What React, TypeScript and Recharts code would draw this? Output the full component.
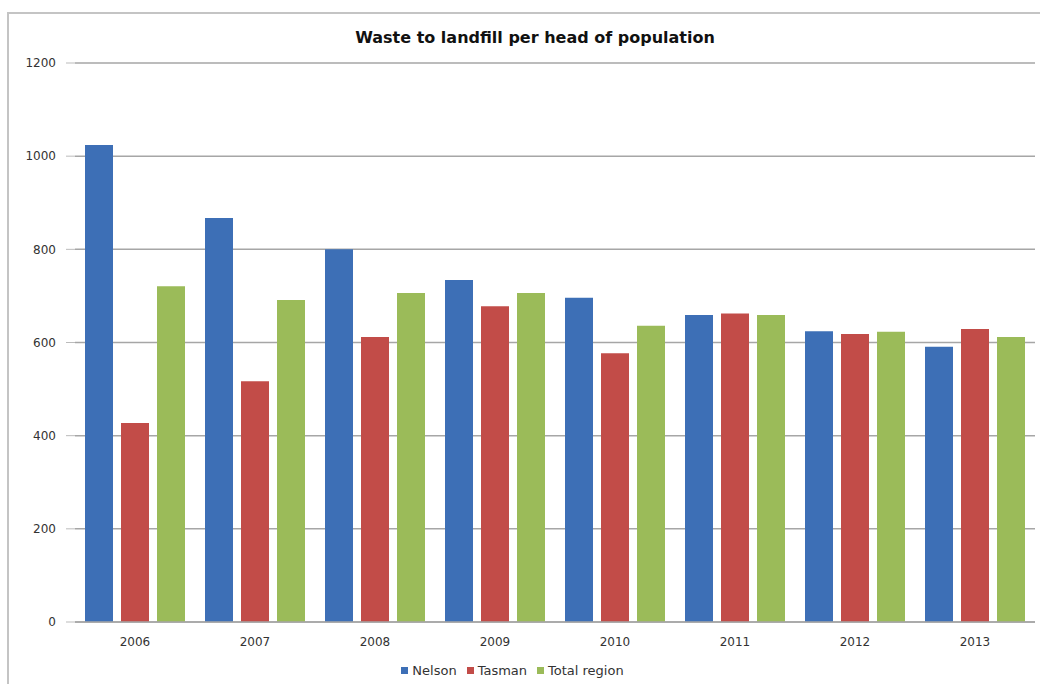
import { Bar, BarChart, CartesianGrid, Legend, XAxis, YAxis } from 'recharts';

const years = ['2006', '2007', '2008', '2009', '2010', '2011', '2012', '2013'];
const nelson = [1024, 867, 800, 734, 696, 659, 624, 591];
const tasman = [427, 517, 612, 678, 577, 662, 618, 629];
const totalRegion = [721, 691, 706, 706, 636, 659, 623, 612];
const yTicks = [0, 200, 400, 600, 800, 1000, 1200];

const data = years.map((year, i) => ({
	year,
	nelson: nelson[i],
	tasman: tasman[i],
	total: totalRegion[i],
}));

const font = "'DejaVu Sans', sans-serif";

export default function App() {
	return (
		<div
			style={{
				position: 'absolute',
				left: 0,
				top: 0,
				width: 1040,
				height: 684,
				background: '#fff',
				fontFamily: font,
			}}
		>
			{/* chart frame */}
			<div
				style={{
					position: 'absolute',
					left: 7,
					top: 12,
					width: 1040,
					height: 684,
					borderLeft: '2px solid #c4c4c4',
					borderTop: '2px solid #c4c4c4',
				}}
			/>
			<div
				style={{
					position: 'absolute',
					top: 28,
					left: 75,
					width: 920,
					textAlign: 'center',
					fontWeight: 'bold',
					fontSize: 16,
					color: '#111',
				}}
			>
				Waste to landfill per head of population
			</div>
			<BarChart
				width={1040}
				height={684}
				data={data}
				margin={{ top: 63, right: 5, left: 0, bottom: 8 }}
				barCategoryGap={10}
				barGap={8}
			>
				<CartesianGrid vertical={false} stroke='#a6a6a6' strokeWidth={1.5} />
				<XAxis
					dataKey='year'
					tickLine={false}
					axisLine={{ stroke: '#a6a6a6', strokeWidth: 1.5 }}
					tickMargin={9}
					height={30}
					tick={{ fill: '#333', fontSize: 12, fontFamily: font }}
				/>
				<YAxis
					domain={[0, 1200]}
					ticks={yTicks}
					width={75}
					axisLine={false}
					tickLine={{ stroke: '#bbb' }}
					tickSize={9}
					tickMargin={10}
					tick={{ fill: '#333', fontSize: 12, fontFamily: font }}
				/>
				<Legend
					verticalAlign='bottom'
					height={24}
					iconType='square'
					iconSize={7}
					wrapperStyle={{ bottom: 0 }}
					formatter={(value) => (
						<span style={{ color: '#333', fontSize: 13, fontFamily: font }}>
							{value}
						</span>
					)}
				/>
				<Bar dataKey='nelson' name='Nelson' fill='#3d6fb6' isAnimationActive={false} />
				<Bar dataKey='tasman' name='Tasman' fill='#c24c48' isAnimationActive={false} />
				<Bar
					dataKey='total'
					name='Total region'
					fill='#9bbb59'
					isAnimationActive={false}
				/>
			</BarChart>
		</div>
	);
}
